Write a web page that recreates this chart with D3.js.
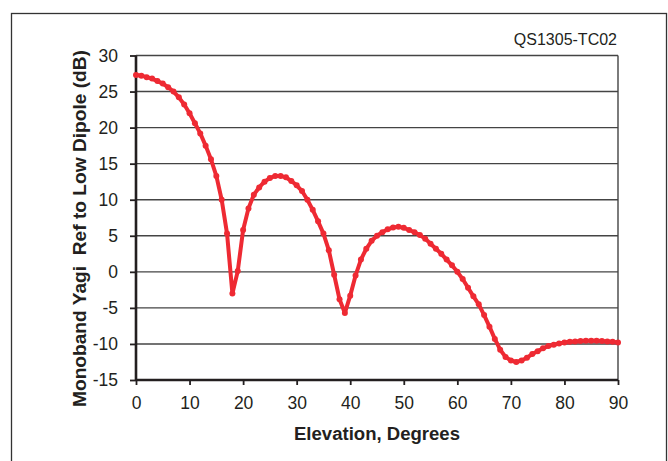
<!DOCTYPE html>
<html>
<head>
<meta charset="utf-8">
<script src="https://cdn.jsdelivr.net/npm/d3@7"></script>
<style>
  body { margin: 0; background: #fff; }
  svg { font-family: "Liberation Sans", Arial, sans-serif; }
</style>
</head>
<body>
<svg id="chart" width="668" height="461"></svg>
<script>
// elevation angles, degrees
const elevation = d3.range(0, 91);
// gain relative to a low dipole, dB (one per degree)
const gain = [
  27.3, 27.2, 27.0, 26.8, 26.45, 26.1, 25.6, 25.0, 24.2, 23.2,
  22.0, 20.6, 19.2, 17.5, 15.6, 13.3, 10.0, 5.3, -3.0, 0.1,
  5.8, 8.8, 10.7, 11.7, 12.5, 13.0, 13.3, 13.3, 13.1, 12.6,
  12.0, 11.2, 10.0, 8.6, 7.0, 5.3, 3.0, -0.4, -3.8, -5.7,
  -3.3, -0.5, 1.7, 3.2, 4.3, 5.0, 5.5, 5.9, 6.15, 6.25,
  6.1, 5.8, 5.5, 5.1, 4.6, 3.9, 3.2, 2.5, 1.7, 0.9,
  0.0, -1.0, -2.2, -3.4, -4.5, -6.0, -7.6, -9.3, -10.8, -11.8,
  -12.3, -12.5, -12.3, -11.9, -11.4, -11.0, -10.6, -10.3, -10.1, -9.95,
  -9.8, -9.7, -9.65, -9.6, -9.55, -9.55, -9.55, -9.6, -9.65, -9.7,
  -9.8
];
const xTicks = [0, 10, 20, 30, 40, 50, 60, 70, 80, 90];
const yTicks = [-15, -10, -5, 0, 5, 10, 15, 20, 25, 30];

(function () {
  const svg = d3.select("#chart");
  const plotLeft = 136, plotRight = 618, plotTop = 55.5, plotBottom = 380;
  const ink = "#231f20";
  const red = "#ee2a33";

  const x = d3.scaleLinear().domain([0, 90]).range([plotLeft, plotRight]);
  const y = d3.scaleLinear().domain([-15, 30]).range([plotBottom, plotTop]);
  // plain hyphen for negatives, like the original
  const fmt = d => String(d);

  // outer frame
  svg.append("rect")
    .attr("x", 11.5).attr("y", 13.5)
    .attr("width", 655).attr("height", 460)
    .attr("fill", "none").attr("stroke", "#333").attr("stroke-width", 1.3);

  // tag
  svg.append("text")
    .attr("x", 617).attr("y", 45)
    .attr("text-anchor", "end")
    .attr("font-size", 16).attr("fill", ink)
    .text("QS1305-TC02");

  // gridlines
  svg.append("g").selectAll("line")
    .data(yTicks.filter(d => d > -15))
    .enter().append("line")
    .attr("x1", plotLeft).attr("x2", plotRight)
    .attr("y1", d => y(d)).attr("y2", d => y(d))
    .attr("stroke", "#444").attr("stroke-width", 1.4);

  // plot box right edge
  svg.append("line")
    .attr("x1", plotRight).attr("x2", plotRight)
    .attr("y1", plotTop).attr("y2", plotBottom)
    .attr("stroke", "#444").attr("stroke-width", 1.4);

  // axes
  const yAxis = svg.append("g")
    .attr("transform", "translate(" + plotLeft + ",0)")
    .call(d3.axisLeft(y).tickValues(yTicks).tickSize(6).tickPadding(12).tickFormat(fmt));
  const xAxis = svg.append("g")
    .attr("transform", "translate(0," + plotBottom + ")")
    .call(d3.axisBottom(x).tickValues(xTicks).tickSize(5).tickPadding(11.5).tickFormat(fmt));

  [xAxis, yAxis].forEach(function (a) {
    a.select(".domain").attr("stroke", ink).attr("stroke-width", 2.6);
    a.selectAll(".tick line").attr("stroke", ink).attr("stroke-width", 1.8);
    a.selectAll(".tick text")
      .attr("font-family", "'Liberation Sans', Arial, sans-serif")
      .attr("font-size", 17.5).attr("fill", ink);
  });
  xAxis.select(".domain").attr("d", "M" + plotLeft + ",0H" + plotRight);
  yAxis.select(".domain").attr("d", "M0," + plotBottom + "V" + plotTop);

  // axis titles
  svg.append("text")
    .attr("x", 377).attr("y", 440)
    .attr("text-anchor", "middle")
    .attr("font-size", 18).attr("font-weight", "bold").attr("fill", ink)
    .attr("textLength", 166).attr("lengthAdjust", "spacingAndGlyphs")
    .text("Elevation, Degrees");

  svg.append("text")
    .attr("transform", "translate(86,228.5) rotate(-90)")
    .attr("text-anchor", "middle")
    .attr("font-size", 17.5).attr("font-weight", "bold").attr("fill", ink)
    .attr("textLength", 357).attr("lengthAdjust", "spacingAndGlyphs")
    .attr("xml:space", "preserve")
    .text("Monoband Yagi  Ref to Low Dipole (dB)");

  // curve
  const line = d3.line()
    .x((d, i) => x(elevation[i]))
    .y(d => y(d));

  svg.append("path")
    .datum(gain)
    .attr("d", line)
    .attr("fill", "none")
    .attr("stroke", red)
    .attr("stroke-width", 4)
    .attr("stroke-linejoin", "round");

  svg.append("g").selectAll("circle")
    .data(gain)
    .enter().append("circle")
    .attr("cx", (d, i) => x(elevation[i]))
    .attr("cy", d => y(d))
    .attr("r", 3)
    .attr("fill", red);
})();
</script>
</body>
</html>
